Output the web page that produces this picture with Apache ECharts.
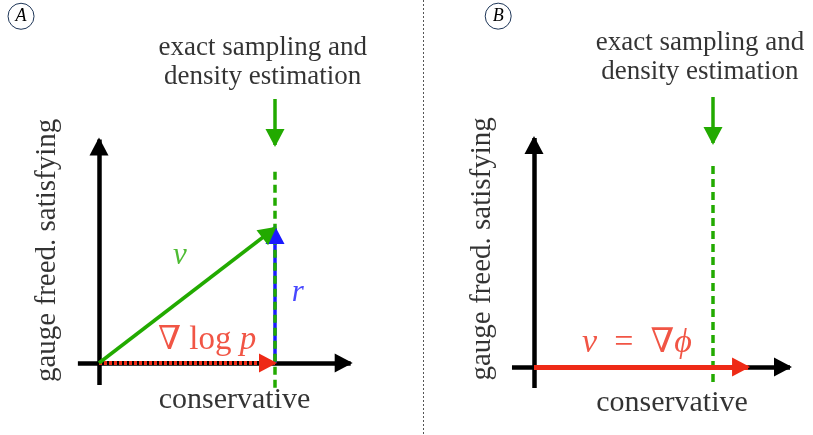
<!DOCTYPE html>
<html>
<head>
<meta charset="utf-8">
<script src="https://cdn.jsdelivr.net/npm/echarts@6/dist/echarts.min.js"></script>
<style>
  html, body { margin: 0; padding: 0; background: #fff; }
  #chart { width: 813px; height: 435px; }
</style>
</head>
<body>
<div id="chart"></div>
<script>
// units: the "exact sampling" guide sits at conservative = 1

// panel A
const axesA = [[[-0.12, 0], [1.43, 0]], [[0, -0.125], [0, 1.27]]]
const vA = [[0, 0], [1, 0.767]]
const gradA = [[0, 0], [1, 0]]
const rA = [[1, 0], [1, 0.767]]
const guideA = [[1, -0.14], [1, 1.114]]
const pointerA = [[1, 1.5], [1, 1.239]]
const textA = ['exact sampling and\ndensity estimation', 'conservative', 'gauge freed. satisfying']
const textPosA = [[0.93, 1.71], [0.77, -0.21], [-0.295, 0.64]]
const mathA = ['{i|v}', '{i|r}', '{n|∇ log }{i|p}']
const mathPosA = [[0.46, 0.61], [1.13, 0.40], [0.614, 0.13]]
const tagPosA = [-0.443, 1.97]

// panel B
const axesB = [[[-0.123, 0], [1.43, 0]], [[0, -0.117], [0, 1.28]]]
const vB = [[0, 0], [1.196, 0]]
const guideB = [[1, -0.084], [1, 1.128]]
const pointerB = [[1, 1.508], [1, 1.251]]
const textB = ['exact sampling and\ndensity estimation', 'conservative', 'gauge freed. satisfying']
const textPosB = [[0.927, 1.729], [0.771, -0.2], [-0.29, 0.66]]
const mathB = ['{i|v}{n|  =  ∇}{i|ϕ}']
const mathPosB = [[0.575, 0.134]]
const tagPosB = [-0.2, 1.96]

const GREEN = '#22aa00'
const RED = '#ee2a16'
const BLUE = '#1a1aff'
const SERIF = '"Liberation Serif", "DejaVu Serif", serif'
const HEAD = [19, 18]

const chart = echarts.init(document.getElementById('chart'))

const shaft = (gi, coordsList, color, width, dash) => ({
  type: 'lines',
  coordinateSystem: 'cartesian2d',
  xAxisIndex: gi,
  yAxisIndex: gi,
  symbol: 'none',
  silent: true,
  lineStyle: { color: color, width: width, opacity: 1, type: dash || 'solid', cap: 'butt' },
  data: coordsList.map(c => ({ coords: c }))
})

// arrow heads: a triangle pulled back along the segment so its tip sits near the end
const heads = (gi, list) => ({
  type: 'scatter',
  xAxisIndex: gi,
  yAxisIndex: gi,
  symbol: 'triangle',
  symbolSize: HEAD,
  silent: true,
  data: list.map(([seg, color]) => {
    const p0 = chart.convertToPixel({ gridIndex: gi }, seg[0])
    const p1 = chart.convertToPixel({ gridIndex: gi }, seg[1])
    const dx = p1[0] - p0[0]
    const dy = p1[1] - p0[1]
    const len = Math.hypot(dx, dy)
    const back = HEAD[1] / 2 - 2
    const theta = Math.atan2(dx, -dy) * 180 / Math.PI
    return {
      value: seg[1],
      symbolRotate: -theta,
      symbolOffset: [-dx / len * back, -dy / len * back],
      itemStyle: { color: color, opacity: 1 }
    }
  })
})

const texts = (gi, list, pos, font) => ({
  type: 'scatter',
  xAxisIndex: gi,
  yAxisIndex: gi,
  symbolSize: 0,
  silent: true,
  data: list.map((t, i) => ({ value: pos[i], name: t, label: font(i) })),
  label: { show: true, position: 'inside', formatter: '{b}' }
})

const tag = (gi, letter, pos) => ({
  type: 'scatter',
  xAxisIndex: gi,
  yAxisIndex: gi,
  symbol: 'circle',
  symbolSize: 26,
  silent: true,
  itemStyle: { color: '#fff', borderColor: '#1d3557', borderWidth: 1, opacity: 1 },
  data: [{ value: pos, name: letter }],
  label: {
    show: true, position: 'inside', formatter: '{b}', color: '#000',
    fontFamily: SERIF, fontStyle: 'italic', fontSize: 18
  }
})

const bodyFont = (i) => i === 2
  ? { fontFamily: SERIF, fontSize: 29, color: '#000', rotate: 90 }
  : i === 1
    ? { fontFamily: SERIF, fontSize: 30, color: '#000' }
    : { fontFamily: SERIF, fontSize: 27, color: '#000', lineHeight: 29 }

const mathFont = (color, size) => ({
  color: color,
  rich: {
    i: { fontFamily: SERIF, fontStyle: 'italic', fontSize: size, color: color },
    n: { fontFamily: SERIF, fontSize: size, color: color }
  }
})

chart.setOption({
  backgroundColor: '#fff',
  animation: false,
  grid: [
    { left: 11, top: 11, width: 396, height: 396 },
    { left: 444.5, top: 9, width: 358, height: 402.75 }
  ],
  xAxis: [
    { type: 'value', gridIndex: 0, min: -0.5, max: 1.75, show: false },
    { type: 'value', gridIndex: 1, min: -0.5, max: 1.5, show: false }
  ],
  yAxis: [
    { type: 'value', gridIndex: 0, min: -0.25, max: 2.0, show: false },
    { type: 'value', gridIndex: 1, min: -0.25, max: 2.0, show: false }
  ],
  graphic: [{
    type: 'line',
    shape: { x1: 423.5, y1: 0, x2: 423.5, y2: 435 },
    style: { stroke: '#555', lineWidth: 1, lineDash: [2, 2] }
  }],
  series: []
})

chart.setOption({
  series: [
    // panel A
    shaft(0, axesA, '#000', 4.5),
    shaft(0, [gradA], '#000', 4),
    shaft(0, [gradA], RED, 4, [3, 2]),
    shaft(0, [rA], BLUE, 3.5),
    heads(0, [[axesA[0], '#000'], [axesA[1], '#000'], [gradA, RED], [rA, BLUE]]),
    shaft(0, [guideA], GREEN, 3.5, [8, 5]),
    shaft(0, [pointerA, vA], GREEN, 3.5),
    heads(0, [[pointerA, GREEN], [vA, GREEN]]),
    texts(0, textA, textPosA, bodyFont),
    texts(0, mathA, mathPosA, (i) => mathFont([GREEN, BLUE, RED][i], i === 2 ? 33 : 31)),
    tag(0, 'A', tagPosA),
    // panel B
    shaft(1, axesB, '#000', 4.5),
    heads(1, [[axesB[0], '#000'], [axesB[1], '#000']]),
    shaft(1, [guideB], GREEN, 3.5, [8, 5]),
    shaft(1, [pointerB], GREEN, 3.5),
    shaft(1, [vB], RED, 5),
    heads(1, [[pointerB, GREEN], [vB, RED]]),
    texts(1, textB, textPosB, bodyFont),
    texts(1, mathB, mathPosB, () => mathFont(RED, 34)),
    tag(1, 'B', tagPosB)
  ]
})
</script>
</body>
</html>
